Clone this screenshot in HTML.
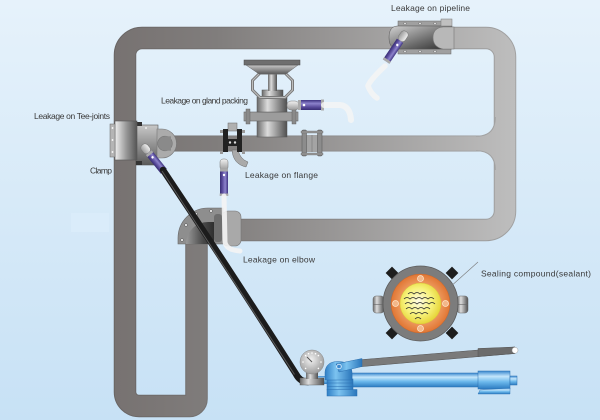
<!DOCTYPE html>
<html><head><meta charset="utf-8">
<style>
html,body{margin:0;padding:0;width:600px;height:420px;overflow:hidden;background:#d8ebf8;}
svg{display:block;}
text{font-family:"Liberation Sans",Arial,sans-serif;font-size:8.5px;fill:#3a3a3a;}
</style></head><body>
<svg width="600" height="420" viewBox="0 0 600 420" xmlns="http://www.w3.org/2000/svg">
<defs>
<linearGradient id="bg" x1="0" y1="0" x2="0" y2="1">
 <stop offset="0" stop-color="#e6f2fb"/>
 <stop offset="1" stop-color="#c7e1f5"/>
</linearGradient>
<linearGradient id="pipeG" gradientUnits="userSpaceOnUse" x1="115" y1="0" x2="517" y2="0">
 <stop offset="0" stop-color="#777271"/>
 <stop offset="0.25" stop-color="#807d7c"/>
 <stop offset="1" stop-color="#bebebe"/>
</linearGradient>
<linearGradient id="pipeO" gradientUnits="userSpaceOnUse" x1="115" y1="0" x2="517" y2="0">
 <stop offset="0" stop-color="#686463"/>
 <stop offset="1" stop-color="#a2a2a2"/>
</linearGradient>
<linearGradient id="purp" x1="0" y1="0" x2="0" y2="1">
 <stop offset="0" stop-color="#3e3380"/>
 <stop offset="0.35" stop-color="#8d83cc"/>
 <stop offset="0.7" stop-color="#5a4c9c"/>
 <stop offset="1" stop-color="#382d74"/>
</linearGradient>
<linearGradient id="fit" x1="0" y1="0" x2="0" y2="1">
 <stop offset="0" stop-color="#f2f2f2"/>
 <stop offset="1" stop-color="#9a9a9a"/>
</linearGradient>
<linearGradient id="hgray" x1="0" y1="0" x2="1" y2="0">
 <stop offset="0" stop-color="#f0f0f0"/>
 <stop offset="0.5" stop-color="#9a9a9a"/>
 <stop offset="1" stop-color="#555"/>
</linearGradient>
<linearGradient id="hgray2" x1="0" y1="0" x2="1" y2="0">
 <stop offset="0" stop-color="#6a6a6a"/>
 <stop offset="0.35" stop-color="#dcdcdc"/>
 <stop offset="1" stop-color="#505050"/>
</linearGradient>
<linearGradient id="vgray" x1="0" y1="0" x2="0" y2="1">
 <stop offset="0" stop-color="#c8c8c8"/>
 <stop offset="1" stop-color="#5a5a5a"/>
</linearGradient>
<linearGradient id="dgray" x1="0" y1="0" x2="1" y2="1">
 <stop offset="0" stop-color="#d2d2d2"/>
 <stop offset="0.6" stop-color="#6a6a6a"/>
 <stop offset="1" stop-color="#2a2a2a"/>
</linearGradient>
<linearGradient id="elb" x1="0" y1="0" x2="1" y2="0">
 <stop offset="0" stop-color="#9a9a9a"/>
 <stop offset="0.6" stop-color="#4a4a4a"/>
 <stop offset="1" stop-color="#2e2e2e"/>
</linearGradient>
<linearGradient id="blue" x1="0" y1="0" x2="0" y2="1">
 <stop offset="0" stop-color="#3a88cf"/>
 <stop offset="0.3" stop-color="#c4e6fb"/>
 <stop offset="0.6" stop-color="#6db9ec"/>
 <stop offset="1" stop-color="#2c7bc1"/>
</linearGradient>
<linearGradient id="blueH" x1="0" y1="0" x2="1" y2="0">
 <stop offset="0" stop-color="#2f7fc6"/>
 <stop offset="0.4" stop-color="#7cc3f0"/>
 <stop offset="1" stop-color="#2a76bb"/>
</linearGradient>
<radialGradient id="dial" cx="0.45" cy="0.4" r="0.6">
 <stop offset="0" stop-color="#f2f2f2"/>
 <stop offset="1" stop-color="#9c9c9c"/>
</radialGradient>
<radialGradient id="yel" cx="0.45" cy="0.45" r="0.55">
 <stop offset="0" stop-color="#fffbe6"/>
 <stop offset="0.6" stop-color="#f7f27a"/>
 <stop offset="1" stop-color="#e7d63c"/>
</radialGradient>
<radialGradient id="org" cx="0.5" cy="0.5" r="0.5">
 <stop offset="0.6" stop-color="#f0a066"/>
 <stop offset="1" stop-color="#e07634"/>
</radialGradient>
</defs>

<rect x="0" y="0" width="600" height="420" fill="url(#bg)"/>
<rect x="71" y="213" width="38" height="19" fill="#dcedfb" opacity="0.7"/>

<!-- main pipe loop -->
<path d="M 210 230 L 486 230 A 19 19 0 0 0 505 211 L 505 57 A 19 19 0 0 0 486 38 L 142 38 A 17 17 0 0 0 125 55 L 125 392 A 14 14 0 0 0 139 406 L 189 406 A 7 7 0 0 0 196.5 399 L 196.5 244 A 14 14 0 0 1 210 230 Z" fill="none" stroke="url(#pipeO)" stroke-width="22.5" stroke-linejoin="round"/>
<path d="M 165 143.5 H 500" stroke="url(#pipeO)" stroke-width="16" fill="none"/>
<path d="M 210 230 L 486 230 A 19 19 0 0 0 505 211 L 505 57 A 19 19 0 0 0 486 38 L 142 38 A 17 17 0 0 0 125 55 L 125 392 A 14 14 0 0 0 139 406 L 189 406 A 7 7 0 0 0 196.5 399 L 196.5 244 A 14 14 0 0 1 210 230 Z" fill="none" stroke="url(#pipeG)" stroke-width="20.5" stroke-linejoin="round"/>
<path d="M 165 143.5 H 500" stroke="url(#pipeG)" stroke-width="14.5" fill="none"/>
<!-- fillets -->
<path d="M 476 136.3 Q 495.3 136.3 495.3 117 V 138 H 476 Z" fill="url(#pipeG)"/>
<path d="M 476 136.3 Q 495.3 136.3 495.3 117" fill="none" stroke="#a2a2a2" stroke-width="1"/>
<path d="M 476 150.7 Q 495.3 150.7 495.3 170 V 149 H 476 Z" fill="url(#pipeG)"/>
<path d="M 476 150.7 Q 495.3 150.7 495.3 170" fill="none" stroke="#a2a2a2" stroke-width="1"/>

<!-- Tee and clamp -->
<rect x="136" y="125" width="22" height="40" fill="url(#vgray)" stroke="#555" stroke-width="0.6"/>
<rect x="136" y="122" width="6" height="4" fill="#333"/>
<rect x="136" y="161" width="6" height="4" fill="#333"/>
<circle cx="146" cy="128" r="1" fill="#eee"/>
<path d="M 157 129 H 162 A 14.5 14.5 0 0 1 162 158 H 157 Z" fill="#ababab" stroke="#777" stroke-width="0.6"/>
<circle cx="165" cy="143.5" r="7.3" fill="#8a8a8a" stroke="#777" stroke-width="0.6"/>
<rect x="165" y="136.3" width="6" height="14.4" fill="#8a8a8a"/>
<rect x="115" y="121" width="22" height="39" fill="url(#hgray)" stroke="#555" stroke-width="0.6"/>
<rect x="110" y="124" width="5" height="33" fill="#b5b5b5" stroke="#666" stroke-width="0.5"/>
<circle cx="112.5" cy="128" r="0.9" fill="#fff"/><circle cx="112.5" cy="140" r="0.9" fill="#fff"/><circle cx="112.5" cy="152" r="0.9" fill="#fff"/>

<!-- valve (gland packing) -->
<rect x="257" y="119" width="30" height="18" fill="url(#hgray2)" stroke="#555" stroke-width="0.5"/>
<rect x="244" y="112" width="54" height="9" fill="#9c9c9c" stroke="#666" stroke-width="0.6"/>
<rect x="246" y="109" width="4" height="15" fill="#8a8a8a" stroke="#555" stroke-width="0.4"/>
<rect x="292" y="109" width="4" height="15" fill="#8a8a8a" stroke="#555" stroke-width="0.4"/>
<rect x="257" y="97" width="30" height="15" fill="url(#hgray2)" stroke="#555" stroke-width="0.5"/>
<rect x="262" y="90" width="21" height="7" fill="url(#hgray2)" stroke="#555" stroke-width="0.5"/>
<rect x="268" y="73" width="9" height="18" fill="url(#hgray2)"/>
<polygon points="260,73 285,73 292.5,80.5 292.5,90 285,97.5 260,97.5 252.5,90 252.5,80.5" fill="none" stroke="#7a7a7a" stroke-width="3"/>
<polygon points="260,73 285,73 292.5,80.5 292.5,90 285,97.5 260,97.5 252.5,90 252.5,80.5" fill="none" stroke="#bdbdbd" stroke-width="1"/>
<path d="M 246 65 L 298 65 L 286 74 L 259 74 Z" fill="url(#vgray)" stroke="#666" stroke-width="0.5"/>
<rect x="244" y="60" width="56" height="5" fill="#6e6e6e" stroke="#4a4a4a" stroke-width="0.5"/>
<!-- gland injection -->
<rect x="287" y="101" width="12" height="9" rx="4" fill="url(#fit)" stroke="#777" stroke-width="0.5"/>
<rect x="298" y="100" width="26" height="10" fill="url(#purp)"/>
<rect x="298" y="100" width="3" height="10" fill="#aaa"/>
<rect x="321" y="99.5" width="3" height="11" fill="#aaa"/>
<circle cx="304" cy="105" r="1.3" fill="#fff"/>
<path d="M 324 105 L 340 105 Q 350 106 351 120" fill="none" stroke="#f4f4f4" stroke-width="6" stroke-linecap="round" opacity="0.85"/>

<!-- flange right on mid pipe -->
<rect x="306" y="135" width="12" height="17" fill="#a4a4a4"/>
<line x1="312" y1="135" x2="312" y2="152" stroke="#777" stroke-width="0.6"/>
<rect x="302" y="130" width="4.5" height="26" rx="1" fill="#8c8c8c" stroke="#555" stroke-width="0.5"/>
<rect x="317.5" y="130" width="4.5" height="26" rx="1" fill="#8c8c8c" stroke="#555" stroke-width="0.5"/>
<rect x="301" y="131" width="22" height="2" fill="#999" stroke="#555" stroke-width="0.3"/>
<rect x="301" y="153" width="22" height="2" fill="#999" stroke="#555" stroke-width="0.3"/>

<!-- flange clamp -->
<rect x="228" y="123" width="9" height="8" fill="#b0b0b0" stroke="#666" stroke-width="0.5"/>
<path d="M 232 150 L 238 150 Q 240 159 248 162 L 246 167 Q 233 164 232 150 Z" fill="#aaa" stroke="#666" stroke-width="0.5"/>
<rect x="223" y="129" width="5" height="23" fill="#222"/>
<rect x="237" y="129" width="5" height="23" fill="#222"/>
<rect x="223" y="139" width="19" height="7" fill="#222"/>
<circle cx="230" cy="142.5" r="1.2" fill="#ddd"/><circle cx="235" cy="142.5" r="1.2" fill="#ddd"/>
<rect x="220" y="130" width="3" height="3" fill="#999"/><rect x="242" y="130" width="3" height="3" fill="#999"/>
<rect x="220" y="151" width="3" height="3" fill="#999"/><rect x="242" y="151" width="3" height="3" fill="#999"/>
<rect x="220" y="159" width="8" height="11" rx="3" fill="url(#fit)" stroke="#777" stroke-width="0.5"/>
<g transform="translate(224,169) rotate(90)">
 <rect x="0" y="-4" width="27" height="8" fill="url(#purp)"/>
 <rect x="0" y="-4" width="2.5" height="8" fill="#aaa"/>
 <rect x="24.5" y="-4.3" width="2.5" height="8.6" fill="#aaa"/>
 <circle cx="6" cy="0" r="1.2" fill="#fff"/>
</g>

<!-- elbow -->
<path d="M 178 244 V 238 A 30 30 0 0 1 208 208 H 223 V 244 Z" fill="#8e8e8e" stroke="#666" stroke-width="0.6"/>
<path d="M 186 244 A 22 22 0 0 1 208 222 H 214 V 244 Z" fill="url(#elb)"/>
<rect x="222" y="211" width="19" height="35" rx="6" fill="#a9a9a9" stroke="#777" stroke-width="0.6"/>
<rect x="214" y="214" width="8" height="28" rx="3" fill="#6e6e6e"/>
<circle cx="182" cy="240" r="1.5" fill="#ddd" stroke="#555" stroke-width="0.5"/>
<circle cx="186" cy="225" r="1.5" fill="#ddd" stroke="#555" stroke-width="0.5"/>
<circle cx="196" cy="214" r="1.5" fill="#ddd" stroke="#555" stroke-width="0.5"/>
<circle cx="211" cy="211" r="1.5" fill="#ddd" stroke="#555" stroke-width="0.5"/>
<path d="M 224 196 L 225 242 Q 226 250 240 251" fill="none" stroke="#f4f4f4" stroke-width="5" stroke-linecap="round" opacity="0.9"/>

<!-- tee injection tube -->
<g transform="translate(145,148) rotate(51)">
 <rect x="-4" y="-4" width="10" height="8" rx="3.5" fill="url(#fit)" stroke="#777" stroke-width="0.5"/>
 <rect x="6" y="-3.8" width="24" height="7.6" fill="url(#purp)"/>
 <rect x="6" y="-3.8" width="2.5" height="7.6" fill="#aaa"/>
 <circle cx="12" cy="0" r="1.2" fill="#fff"/>
</g>

<!-- black hose -->
<path d="M 163 170 Q 230 270 296 374 Q 300 382 308 382" fill="none" stroke="#1c1c1c" stroke-width="6.5" stroke-linecap="round"/>
<path d="M 162 171 L 294.5 374.5" fill="none" stroke="#5a5a5a" stroke-width="1"/>

<!-- pipeline clamp -->
<rect x="398" y="21" width="53" height="5" fill="#a0a0a0" stroke="#666" stroke-width="0.5"/>
<rect x="398" y="49" width="53" height="5" fill="#a0a0a0" stroke="#666" stroke-width="0.5"/>
<circle cx="405" cy="23.5" r="1.3" fill="#ddd" stroke="#555" stroke-width="0.4"/>
<circle cx="420" cy="23.5" r="1.3" fill="#ddd" stroke="#555" stroke-width="0.4"/>
<circle cx="435" cy="23.5" r="1.3" fill="#ddd" stroke="#555" stroke-width="0.4"/>
<circle cx="405" cy="51.5" r="1.3" fill="#ddd" stroke="#555" stroke-width="0.4"/>
<circle cx="420" cy="51.5" r="1.3" fill="#ddd" stroke="#555" stroke-width="0.4"/>
<circle cx="435" cy="51.5" r="1.3" fill="#ddd" stroke="#555" stroke-width="0.4"/>
<path d="M 398 26 H 452 V 49 H 398 Q 389 49 389 37.5 Q 389 26 398 26 Z" fill="url(#dgray)" stroke="#555" stroke-width="0.5"/>
<rect x="441" y="19" width="11" height="7" fill="#c0c0c0" stroke="#777" stroke-width="0.5"/>
<path d="M 454 27 H 443 Q 433 28 433 37.5 Q 433 47 443 49 H 454 Z" fill="#b8b8b8" stroke="#777" stroke-width="0.6"/>
<g transform="translate(404,35) rotate(124)">
 <rect x="-4" y="-4" width="11" height="8" rx="3.5" fill="url(#fit)" stroke="#777" stroke-width="0.5"/>
 <rect x="7" y="-3.8" width="25" height="7.6" fill="url(#purp)"/>
 <rect x="29.5" y="-4.1" width="2.5" height="8.2" fill="#aaa"/>
 <circle cx="12" cy="0" r="1.2" fill="#fff"/>
</g>
<path d="M 385 66 Q 370 80 368 86 Q 371 94 377 98" fill="none" stroke="#f4f4f4" stroke-width="5.5" stroke-linecap="round" opacity="0.9"/>

<!-- sealing compound cross-section -->
<rect x="373" y="296" width="11" height="17" rx="3" fill="url(#hgray2)" stroke="#666" stroke-width="0.5"/>
<rect x="457" y="296" width="11" height="17" rx="3" fill="url(#hgray2)" stroke="#666" stroke-width="0.5"/>
<line x1="373" y1="304.5" x2="384" y2="304.5" stroke="#666" stroke-width="0.6"/>
<line x1="457" y1="304.5" x2="468" y2="304.5" stroke="#666" stroke-width="0.6"/>
<rect x="387.5" y="268.5" width="9" height="9" fill="#1e1e1e" transform="rotate(45 392 273)"/>
<rect x="447.5" y="268.5" width="9" height="9" fill="#1e1e1e" transform="rotate(45 452 273)"/>
<rect x="387.5" y="328.5" width="9" height="9" fill="#1e1e1e" transform="rotate(45 392 333)"/>
<rect x="447.5" y="328.5" width="9" height="9" fill="#1e1e1e" transform="rotate(45 452 333)"/>
<circle cx="420.5" cy="303.5" r="37.5" fill="#7c7c7c" stroke="#5a5a5a" stroke-width="0.8"/>
<circle cx="420.5" cy="303.5" r="29.5" fill="url(#org)" stroke="#c8652a" stroke-width="0.5"/>
<circle cx="420.5" cy="303.5" r="20.5" fill="url(#yel)" stroke="#d9c43a" stroke-width="0.5"/>
<circle cx="420.5" cy="278.5" r="3" fill="#f3b78a" stroke="#fde3c8" stroke-width="0.8"/>
<circle cx="420.5" cy="328.5" r="3" fill="#f3b78a" stroke="#fde3c8" stroke-width="0.8"/>
<circle cx="395.5" cy="303.5" r="3" fill="#f3b78a" stroke="#fde3c8" stroke-width="0.8"/>
<circle cx="445.5" cy="303.5" r="3" fill="#f3b78a" stroke="#fde3c8" stroke-width="0.8"/>
<g fill="none" stroke="#2a2a2a" stroke-width="0.8">
 <path d="M 408 294 q 3 -3 6 0 q 3 -3 6 0 q 3 -3 6 0"/>
 <path d="M 404 299 q 3 -3 6 0 q 3 -3 6 0 q 3 -3 6 0 q 3 -3 6 0 q 3 -3 6 0"/>
 <path d="M 405 304 q 3 -3 6 0 q 3 -3 6 0 q 3 -3 6 0 q 3 -3 6 0 q 3 -3 6 0"/>
 <path d="M 406 309 q 3 -3 6 0 q 3 -3 6 0 q 3 -3 6 0 q 3 -3 6 0"/>
 <path d="M 410 314 q 3 -3 6 0 q 3 -3 6 0 q 3 -3 6 0"/>
 <path d="M 415 319 q 3 -3 6 0"/>
</g>
<line x1="449" y1="288" x2="478" y2="262" stroke="#7a7a7a" stroke-width="0.6"/>

<!-- pump -->
<polygon points="357,360 515,347 515,353.5 357,367" fill="#7a7a7a" stroke="#555" stroke-width="0.5"/>
<polygon points="478,348.5 515,347 515,353.5 478,356.5" fill="#6c6c6c" stroke="#555" stroke-width="0.5"/>
<circle cx="515" cy="350.3" r="3" fill="#fff" stroke="#999" stroke-width="0.5"/>
<rect x="352" y="373" width="127" height="14" fill="url(#blue)" stroke="#2a6fb0" stroke-width="0.5"/>
<rect x="478" y="371" width="32" height="18" fill="url(#blue)" stroke="#2a6fb0" stroke-width="0.5"/>
<rect x="510" y="376" width="7" height="9" fill="url(#blue)" stroke="#2a6fb0" stroke-width="0.5"/>
<polygon points="480,390 510,388 510,394 478,394" fill="url(#blue)" stroke="#2a6fb0" stroke-width="0.4"/>
<rect x="318" y="376" width="10" height="8" fill="url(#blue)"/>
<rect x="327" y="379" width="26" height="11" fill="url(#blueH)" stroke="#2a6fb0" stroke-width="0.5"/>
<line x1="327" y1="383" x2="353" y2="383" stroke="#2a6fb0" stroke-width="0.5"/>
<line x1="327" y1="386.5" x2="353" y2="386.5" stroke="#2a6fb0" stroke-width="0.5"/>
<rect x="327" y="389.5" width="30" height="6.5" fill="url(#blueH)" stroke="#2a6fb0" stroke-width="0.5"/>
<path d="M 325 380 V 372 Q 326 361.5 338 361.5 Q 351 361.5 352 372 V 380 Z" fill="url(#blueH)" stroke="#2a6fb0" stroke-width="0.5"/>
<polygon points="336,364 362,358.5 362,366.5 339,372" fill="url(#blueH)" stroke="#2a6fb0" stroke-width="0.5"/>
<circle cx="339" cy="366.5" r="2.3" fill="#3a88cf" stroke="#e6f4ff" stroke-width="0.8"/>
<!-- gauge -->
<rect x="300" y="378" width="24" height="7" fill="url(#hgray2)" stroke="#555" stroke-width="0.4"/>
<rect x="306" y="371" width="12" height="8" fill="url(#hgray2)"/>
<circle cx="312" cy="362" r="12" fill="url(#dial)" stroke="#888" stroke-width="0.5"/>
<g fill="#fff">
 <circle cx="312" cy="353" r="0.8"/><circle cx="318.4" cy="355.6" r="0.8"/><circle cx="321" cy="362" r="0.8"/>
 <circle cx="318.4" cy="368.4" r="0.8"/><circle cx="305.6" cy="368.4" r="0.8"/><circle cx="303" cy="362" r="0.8"/>
 <circle cx="305.6" cy="355.6" r="0.8"/><circle cx="315.5" cy="353.7" r="0.8"/><circle cx="308.5" cy="353.7" r="0.8"/>
</g>
<line x1="312" y1="362" x2="307" y2="357" stroke="#555" stroke-width="1"/>

<!-- labels -->
<text x="391" y="11" textLength="79" lengthAdjust="spacing">Leakage on pipeline</text>
<text x="161" y="103.5" textLength="87" lengthAdjust="spacing">Leakage on gland packing</text>
<text x="34" y="119" textLength="76" lengthAdjust="spacing">Leakage on Tee-joints</text>
<text x="90" y="173.5" textLength="22" lengthAdjust="spacing">Clamp</text>
<text x="245" y="178" textLength="73" lengthAdjust="spacing">Leakage on flange</text>
<text x="243" y="262.5" textLength="72" lengthAdjust="spacing">Leakage on elbow</text>
<text x="481" y="276.5" textLength="110" lengthAdjust="spacing">Sealing  compound(sealant)</text>
</svg>
</body></html>
